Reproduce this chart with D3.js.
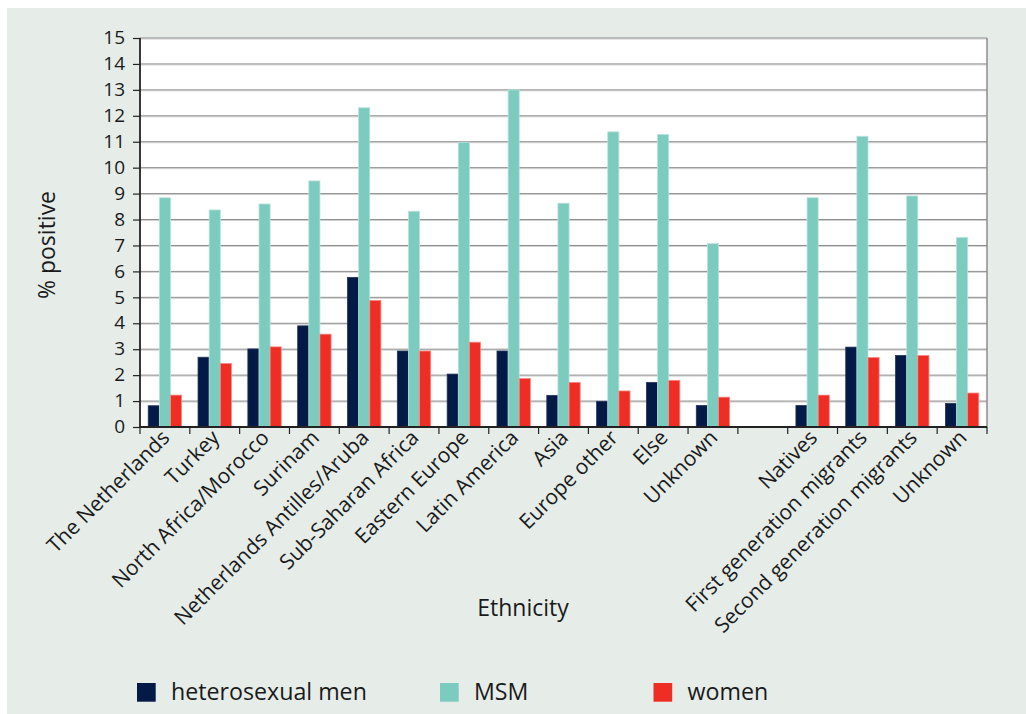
<!DOCTYPE html>
<html>
<head>
<meta charset="utf-8">
<script src="https://cdn.jsdelivr.net/npm/d3@7"></script>
<style>
  html, body { margin: 0; padding: 0; background: #ffffff; }
  svg { display: block; font-family: "Open Sans", "Noto Sans", sans-serif; }
</style>
</head>
<body>
<svg id="chart" width="1026" height="714"></svg>
<script>
// HIV test results by ethnicity and risk group (% positive)
const categories = [
  "The Netherlands", "Turkey", "North Africa/Morocco", "Surinam",
  "Netherlands Antilles/Aruba", "Sub-Saharan Africa", "Eastern Europe",
  "Latin America", "Asia", "Europe other", "Else", "Unknown",
  "",
  "Natives", "First generation migrants", "Second generation migrants", "Unknown"
];
const heterosexualMen = [0.82, 2.69, 3.01, 3.90, 5.77, 2.93, 2.04, 2.93, 1.22, 0.99, 1.72, 0.83, null, 0.83, 3.08, 2.76, 0.91];
const msm             = [8.84, 8.37, 8.60, 9.49, 12.31, 8.32, 10.98, 13.00, 8.63, 11.38, 11.28, 7.07, null, 8.84, 11.21, 8.91, 7.31];
const women           = [1.23, 2.45, 3.09, 3.58, 4.88, 2.93, 3.27, 1.87, 1.72, 1.39, 1.80, 1.15, null, 1.23, 2.68, 2.76, 1.31];

const seriesNames = ["heterosexual men", "MSM", "women"];
const seriesValues = [heterosexualMen, msm, women];
const seriesColors = ["#021a45", "#7bcbbf", "#ee2d24"];
const seriesStrokes = ["#21355a", "#b9e3dc", "#f58a84"];
const yTicks = d3.range(0, 16);

const svg = d3.select("#chart");

// panel background
svg.append("rect").attr("x", 7).attr("y", 8).attr("width", 1019).attr("height", 706).attr("fill", "#e6ede9");

const plot = { left: 140, right: 987, top: 38, bottom: 427 };

const y = d3.scaleLinear().domain([0, 15]).range([plot.bottom, plot.top]);
const idx = d3.range(categories.length);
const slot = d3.scaleBand().domain(idx).range([plot.left, plot.right]).padding(0);
const group = d3.scaleBand().domain(idx).range([plot.left, plot.right]).paddingInner(0.33).paddingOuter(0.165);
const inner = d3.scaleBand().domain(d3.range(seriesNames.length)).range([0, group.bandwidth()]);

// plot area
svg.append("rect")
  .attr("x", plot.left).attr("y", plot.top)
  .attr("width", plot.right - plot.left).attr("height", plot.bottom - plot.top)
  .attr("fill", "#ffffff");

// gridlines
const grid = svg.append("g");
yTicks.filter(t => t > 0).forEach(t => {
  grid.append("line")
    .attr("x1", plot.left).attr("x2", plot.right)
    .attr("y1", y(t) + 1).attr("y2", y(t) + 1)
    .attr("stroke", "#d2d2d2").attr("stroke-width", 1);
  grid.append("line")
    .attr("x1", plot.left).attr("x2", plot.right)
    .attr("y1", y(t)).attr("y2", y(t))
    .attr("stroke", "#8c8c8c").attr("stroke-width", 1);
});
// right border
svg.append("line")
  .attr("x1", plot.right).attr("x2", plot.right)
  .attr("y1", plot.top).attr("y2", plot.bottom)
  .attr("stroke", "#8c8c8c").attr("stroke-width", 1.5);

// bars
seriesValues.forEach((vals, s) => {
  svg.append("g").selectAll("rect")
    .data(idx.filter(i => vals[i] != null))
    .join("rect")
    .attr("x", i => group(i) + inner(s))
    .attr("y", i => y(vals[i]))
    .attr("width", inner.bandwidth())
    .attr("height", i => y(0) - y(vals[i]))
    .attr("fill", seriesColors[s])
    .attr("stroke", seriesStrokes[s])
    .attr("stroke-width", 0.8);
});

// y axis
const yAxis = svg.append("g")
  .attr("transform", `translate(${plot.left},0)`)
  .call(d3.axisLeft(y).tickValues(yTicks).tickSize(7).tickPadding(8).tickFormat(d3.format("d")));
yAxis.select(".domain").remove();
yAxis.selectAll(".tick line").attr("stroke", "#222").attr("stroke-width", 1.2);
yAxis.selectAll(".tick text")
  .attr("font-size", 19).attr("fill", "#1a1a1a")
  .attr("font-family", "'Open Sans', sans-serif")
  .attr("dy", "0.3em");
svg.append("line")
  .attr("x1", plot.left).attr("x2", plot.left)
  .attr("y1", plot.top).attr("y2", plot.bottom)
  .attr("stroke", "#222").attr("stroke-width", 1.8);

// x axis
const boundaries = idx.map(i => slot(i)).concat([plot.right]);
const xAxis = svg.append("g");
xAxis.append("line")
  .attr("x1", plot.left).attr("x2", plot.right)
  .attr("y1", plot.bottom).attr("y2", plot.bottom)
  .attr("stroke", "#222").attr("stroke-width", 1.8);
xAxis.selectAll("line.tk").data(boundaries).join("line")
  .attr("class", "tk")
  .attr("x1", d => d).attr("x2", d => d)
  .attr("y1", plot.bottom).attr("y2", plot.bottom + 7)
  .attr("stroke", "#222").attr("stroke-width", 1.2);

xAxis.selectAll("text").data(idx.filter(i => categories[i] !== "")).join("text")
  .attr("transform", i => `translate(${slot(i) + slot.bandwidth() / 2 + 6},${plot.bottom + 12}) rotate(-45)`)
  .attr("text-anchor", "end")
  .attr("font-size", 21)
  .attr("fill", "#1a1a1a")
  .text(i => categories[i]);

// axis titles
svg.append("text")
  .attr("x", 523).attr("y", 616)
  .attr("text-anchor", "middle")
  .attr("font-size", 23).attr("fill", "#1a1a1a")
  .text("Ethnicity");
svg.append("text")
  .attr("transform", "translate(55,245) rotate(-90)")
  .attr("text-anchor", "middle")
  .attr("font-size", 23).attr("fill", "#1a1a1a")
  .text("% positive");

// legend
const legendX = [137, 440, 653.5];
const legend = svg.append("g");
seriesNames.forEach((name, s) => {
  legend.append("rect")
    .attr("x", legendX[s]).attr("y", 683)
    .attr("width", 18.7).attr("height", 18.7)
    .attr("fill", seriesColors[s]);
  legend.append("text")
    .attr("x", legendX[s] + 34).attr("y", 700)
    .attr("font-size", 23.2).attr("fill", "#1a1a1a")
    .text(name);
});
</script>
</body>
</html>
